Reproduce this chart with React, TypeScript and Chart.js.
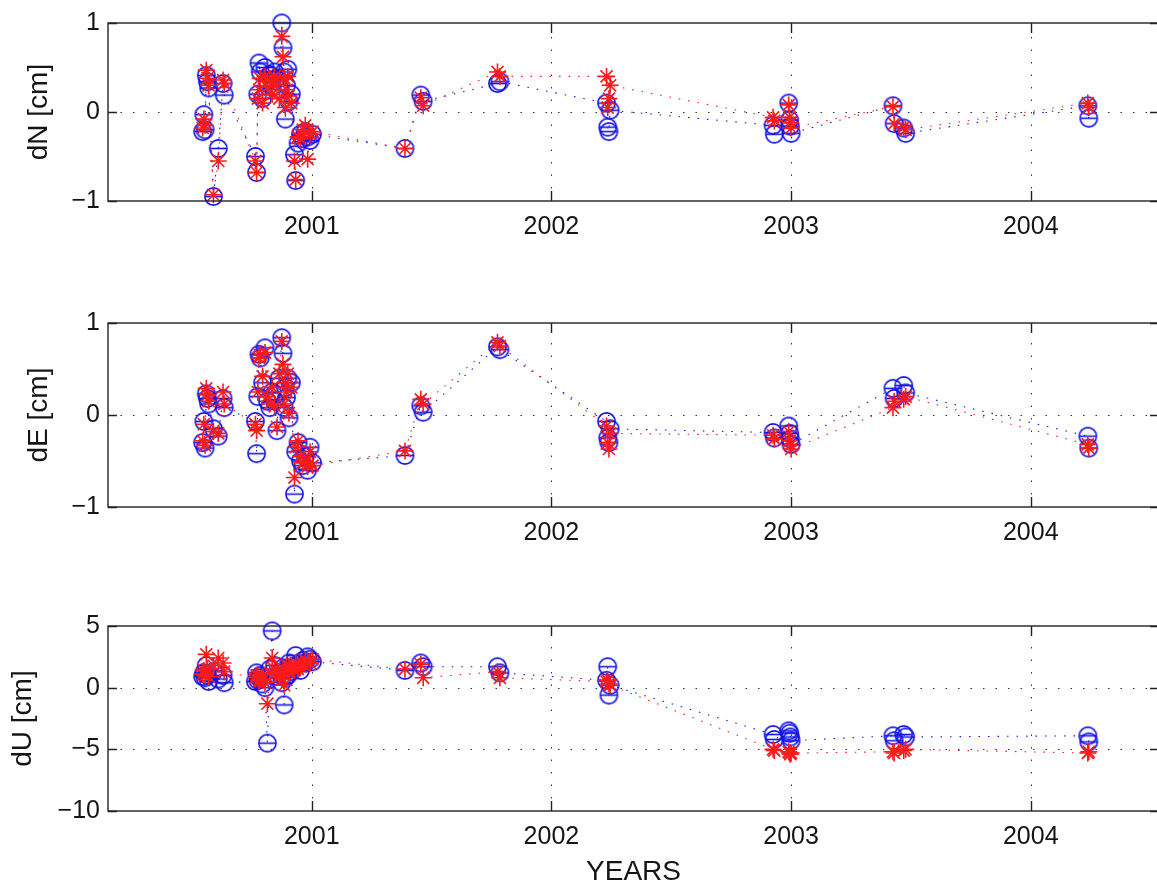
import React, { useEffect, useRef } from 'react';
import { Chart, registerables } from 'chart.js';

Chart.register(...registerables);

// ---- data (decimal years) ----
const EPOCHS = [
  2000.545, 2000.55, 2000.555, 2000.56, 2000.565, 2000.57, 2000.59, 2000.61, 2000.63, 2000.635,
  2000.765, 2000.77, 2000.775, 2000.78, 2000.785, 2000.795, 2000.805, 2000.815, 2000.825, 2000.835,
  2000.845, 2000.855, 2000.865, 2000.875, 2000.88, 2000.885, 2000.89, 2000.895, 2000.9, 2000.905,
  2000.915, 2000.928, 2000.933, 2000.943, 2000.953, 2000.963, 2000.973, 2000.983, 2000.993, 2001.003,
  2001.389, 2001.455, 2001.465, 2001.775, 2001.785,
  2002.23, 2002.235, 2002.24, 2002.245,
  2002.925, 2002.93, 2002.99, 2002.994, 2002.997, 2003.0,
  2003.425, 2003.43, 2003.47, 2003.478,
  2004.238, 2004.242,
];

const N_BLUE = [
  -0.22, -0.03, -0.2, 0.41, 0.34, 0.27, -0.95, -0.41, 0.32, 0.19,
  -0.5, -0.68, 0.2, 0.55, 0.45, 0.15, 0.5, 0.35, 0.42, 0.28,
  0.45, 0.38, 0.25, 1.0, 0.72, 0.45, -0.08, 0.3, 0.48, 0.12,
  0.2, -0.48, -0.77, -0.35, -0.25, -0.3, -0.22, -0.28, -0.32, -0.25,
  -0.41, 0.19, 0.12, 0.32, 0.34,
  0.1, -0.17, -0.22, 0.02,
  -0.15, -0.25, 0.1, -0.09, -0.16, -0.24,
  0.07, -0.13, -0.18, -0.24,
  0.07, -0.07,
];
const N_RED = [
  -0.18, -0.08, -0.15, 0.47, 0.38, 0.3, -0.93, -0.55, 0.36, 0.32,
  -0.55, -0.68, 0.15, 0.25, 0.38, 0.1, 0.4, 0.28, 0.35, 0.2,
  0.4, 0.3, 0.15, 0.85, 0.62, 0.38, 0.05, 0.25, 0.4, 0.18,
  0.1, -0.55, -0.76, -0.28, -0.3, -0.2, -0.15, -0.53, -0.25, -0.22,
  -0.41, 0.16, 0.07, 0.45, 0.4,
  0.4, 0.05, 0.15, 0.3,
  -0.06, -0.1, 0.08, -0.06, -0.12, -0.18,
  0.06, -0.13, -0.17, -0.2,
  0.1, 0.05,
];
const E_BLUE = [
  -0.3, -0.07, -0.36, 0.23, 0.18, 0.12, -0.15, -0.23, 0.18, 0.08,
  -0.07, -0.42, 0.2, 0.66, 0.62, 0.35, 0.73, 0.15, 0.08, 0.25,
  0.15, -0.17, 0.4, 0.84, 0.67, 0.08, 0.3, 0.19, 0.4, -0.03,
  0.35, -0.86, -0.4, -0.3, -0.5, -0.55, -0.45, -0.6, -0.35, -0.52,
  -0.44, 0.1, 0.03, 0.74, 0.71,
  -0.07, -0.25, -0.3, -0.15,
  -0.19, -0.25, -0.12, -0.2, -0.26, -0.32,
  0.29, 0.18, 0.32, 0.24,
  -0.23, -0.36,
];
const E_RED = [
  -0.28, -0.1, -0.33, 0.29, 0.22, 0.15, -0.18, -0.2, 0.25, 0.12,
  -0.1, -0.17, 0.25, 0.62, 0.65, 0.42, 0.68, 0.2, 0.12, 0.3,
  0.1, -0.13, 0.45, 0.8, 0.55, 0.12, 0.35, 0.25, 0.45, 0.02,
  0.3, -0.68, -0.35, -0.28, -0.45, -0.52, -0.5, -0.56, -0.4, -0.55,
  -0.39, 0.17, 0.12, 0.79, 0.75,
  -0.12, -0.3, -0.37, -0.2,
  -0.22, -0.26, -0.18, -0.28, -0.33, -0.37,
  0.08, 0.15, 0.17, 0.2,
  -0.32, -0.36,
];
const U_BLUE = [
  0.9, 1.2, 0.8, 1.8, 1.0, 0.5, 1.3, 0.7, 1.0, 0.4,
  0.5, 1.2, 0.6, 0.8, 1.0, 0.3, 0.0, -4.5, 1.5, 4.6,
  1.8, 0.9, 1.2, 0.4, 1.6, -1.4, 0.8, 1.5, 1.0, 2.0,
  1.3, 1.7, 2.6, 1.9, 1.4, 2.2, 2.0, 2.5, 2.3, 2.1,
  1.4, 2.0, 1.7, 1.7, 1.2,
  0.6, 1.7, -0.6, 0.2,
  -3.8, -4.2, -3.5, -3.7, -4.0, -4.3,
  -3.9, -4.3, -3.8, -4.0,
  -3.9, -4.4,
];
const U_RED = [
  1.1, 1.4, 1.0, 2.7, 1.5, 0.9, 1.8, 2.4, 2.0, 1.3,
  0.8, 1.0, 1.0, 0.5, 0.7, 0.6, 0.4, -1.3, 1.2, 2.4,
  1.5, 1.2, 0.9, 0.7, 1.3, 0.2, 1.1, 1.8, 1.3, 1.7,
  1.6, 1.4, 2.0, 1.5, 1.7, 1.9, 2.2, 2.1, 2.0, 2.3,
  1.5, 1.9, 0.8, 1.3, 0.8,
  0.5, 0.6, 0.3, 0.2,
  -5.0, -5.1, -5.2, -5.3, -5.4, -5.3,
  -5.2, -5.3, -5.1, -5.0,
  -5.3, -5.2,
];

const X_TICKS = [2001, 2002, 2003, 2004];
const NE_TICKS = [-1, 0, 1];
const U_TICKS = [-10, -5, 0, 5];
const X_LABEL = 'YEARS';
const Y_LABELS = ['dN [cm]', 'dE [cm]', 'dU [cm]'];

const X_MIN = 2000.15;
const X_MAX = 2004.535;

const FONT = '"Liberation Sans", Arial, Helvetica, sans-serif';
const TEXT = '#151515';
const BLUE = '#1212e8';
const RED = '#ff1a1a';

type Panel = {
  label: string;
  blue: number[];
  red: number[];
  ticks: number[];
  top: number;
  height: number;
  areaTop: number;
  xAxisH: number;
  padLeft: number;
  yAxisW: number;
  xTitle: boolean;
};

const PANELS: Panel[] = [
  { label: Y_LABELS[0], blue: N_BLUE, red: N_RED, ticks: NE_TICKS, top: 0, height: 251, areaTop: 18, xAxisH: 50, padLeft: 25, yAxisW: 83, xTitle: false },
  { label: Y_LABELS[1], blue: E_BLUE, red: E_RED, ticks: NE_TICKS, top: 300, height: 257, areaTop: 23, xAxisH: 50, padLeft: 25, yAxisW: 83, xTitle: false },
  { label: Y_LABELS[2], blue: U_BLUE, red: U_RED, ticks: U_TICKS, top: 600, height: 286, areaTop: 26, xAxisH: 75, padLeft: 9, yAxisW: 99, xTitle: true },
];

function makeBlueMarker(): HTMLCanvasElement {
  const c = document.createElement('canvas');
  c.width = 21;
  c.height = 21;
  const g = c.getContext('2d')!;
  g.strokeStyle = BLUE;
  g.lineWidth = 1.6;
  g.beginPath();
  g.arc(10.5, 10.5, 8.6, 0, Math.PI * 2);
  g.stroke();
  g.beginPath();
  g.moveTo(2.2, 10.5);
  g.lineTo(18.8, 10.5);
  g.stroke();
  return c;
}

const matlabAxes = {
  id: 'matlabAxes',
  beforeDatasetsDraw(chart: any) {
    const { ctx, chartArea: a } = chart;
    const x = chart.scales.x;
    const y = chart.scales.y;
    ctx.save();
    ctx.strokeStyle = '#333';
    ctx.lineWidth = 1;
    ctx.setLineDash([1.5, 11]);
    for (const t of x.ticks) {
      const px = Math.round(x.getPixelForValue(t.value)) + 0.5;
      ctx.beginPath();
      ctx.moveTo(px, a.bottom);
      ctx.lineTo(px, a.top);
      ctx.stroke();
    }
    for (const t of y.ticks) {
      if (t.value === y.min || t.value === y.max) continue;
      const py = Math.round(y.getPixelForValue(t.value)) + 0.5;
      ctx.beginPath();
      ctx.moveTo(a.left, py);
      ctx.lineTo(a.right, py);
      ctx.stroke();
    }
    ctx.restore();
  },
  afterDraw(chart: any) {
    const { ctx, chartArea: a } = chart;
    const x = chart.scales.x;
    const y = chart.scales.y;
    ctx.save();
    ctx.strokeStyle = '#222';
    ctx.lineWidth = 1.4;
    ctx.setLineDash([]);
    ctx.strokeRect(a.left, a.top, a.right - a.left, a.bottom - a.top);
    ctx.beginPath();
    for (const t of x.ticks) {
      const px = Math.round(x.getPixelForValue(t.value)) + 0.5;
      ctx.moveTo(px, a.bottom);
      ctx.lineTo(px, a.bottom - 10);
      ctx.moveTo(px, a.top);
      ctx.lineTo(px, a.top + 10);
    }
    for (const t of y.ticks) {
      const py = Math.round(y.getPixelForValue(t.value)) + 0.5;
      ctx.moveTo(a.left, py);
      ctx.lineTo(a.left + 9, py);
      ctx.moveTo(a.right, py);
      ctx.lineTo(a.right - 9, py);
    }
    ctx.stroke();
    ctx.restore();
  },
};

function fmt(v: number): string {
  return v < 0 ? '\u2212' + Math.abs(v) : String(v);
}

function buildConfig(p: Panel, marker: HTMLCanvasElement): any {
  const red = EPOCHS.map((t, i) => ({ x: t, y: p.red[i] }));
  const blue = EPOCHS.map((t, i) => ({ x: t, y: p.blue[i] }));
  return {
    type: 'scatter',
    data: {
      datasets: [
        {
          data: red,
          showLine: true,
          borderColor: RED,
          borderWidth: 1.1,
          borderDash: [1.5, 8],
          pointStyle: 'star',
          pointRadius: 8.5,
          pointBorderColor: RED,
          pointBorderWidth: 1.6,
          pointBackgroundColor: RED,
          clip: false,
        },
        {
          data: blue,
          showLine: true,
          borderColor: BLUE,
          borderWidth: 1.1,
          borderDash: [1.5, 8],
          pointStyle: marker,
          pointRadius: 9,
          pointBorderColor: BLUE,
          clip: false,
        },
      ],
    },
    options: {
      animation: false,
      responsive: false,
      maintainAspectRatio: false,
      devicePixelRatio: 1,
      layout: { padding: { left: p.padLeft, top: p.areaTop, right: 11, bottom: 0 } },
      plugins: { legend: { display: false }, tooltip: { enabled: false } },
      scales: {
        x: {
          type: 'linear',
          min: X_MIN,
          max: X_MAX,
          afterBuildTicks: (s: any) => {
            s.ticks = X_TICKS.map((v) => ({ value: v }));
          },
          afterFit: (s: any) => {
            s.height = p.xAxisH;
          },
          grid: { display: false, drawTicks: false },
          border: { display: false },
          ticks: {
            padding: 11,
            autoSkip: false,
            maxRotation: 0,
            color: TEXT,
            font: { family: FONT, size: 25, lineHeight: 1.2 },
            callback: (v: any) => String(v),
          },
          title: {
            display: p.xTitle,
            text: X_LABEL,
            color: TEXT,
            padding: 0,
            font: { family: FONT, size: 28, lineHeight: 1 },
          },
        },
        y: {
          type: 'linear',
          min: p.ticks[0],
          max: p.ticks[p.ticks.length - 1],
          afterBuildTicks: (s: any) => {
            s.ticks = p.ticks.map((v) => ({ value: v }));
          },
          afterFit: (s: any) => {
            s.width = p.yAxisW;
          },
          grid: { display: false, drawTicks: false },
          border: { display: false },
          ticks: {
            padding: 8,
            autoSkip: false,
            color: TEXT,
            font: { family: FONT, size: 25, lineHeight: 1.2 },
            callback: (v: any) => fmt(Number(v)),
          },
          title: {
            display: true,
            text: p.label,
            color: TEXT,
            padding: 0,
            font: { family: FONT, size: 28, lineHeight: 1 },
          },
        },
      },
    },
    plugins: [matlabAxes],
  };
}

export default function App() {
  const r0 = useRef<HTMLCanvasElement>(null);
  const r1 = useRef<HTMLCanvasElement>(null);
  const r2 = useRef<HTMLCanvasElement>(null);
  const refs = [r0, r1, r2];

  useEffect(() => {
    const marker = makeBlueMarker();
    const charts = PANELS.map((p, i) => new Chart(refs[i].current as HTMLCanvasElement, buildConfig(p, marker)));
    return () => charts.forEach((c) => c.destroy());
  }, []);

  return (
    <div style={{ position: 'fixed', left: 0, top: 0, width: 1157, height: 886, overflow: 'hidden', background: '#fff' }}>
      {PANELS.map((p, i) => (
        <canvas
          key={i}
          ref={refs[i]}
          width={1170}
          height={p.height}
          style={{ position: 'absolute', left: 0, top: p.top, width: 1170, height: p.height }}
        />
      ))}
    </div>
  );
}
